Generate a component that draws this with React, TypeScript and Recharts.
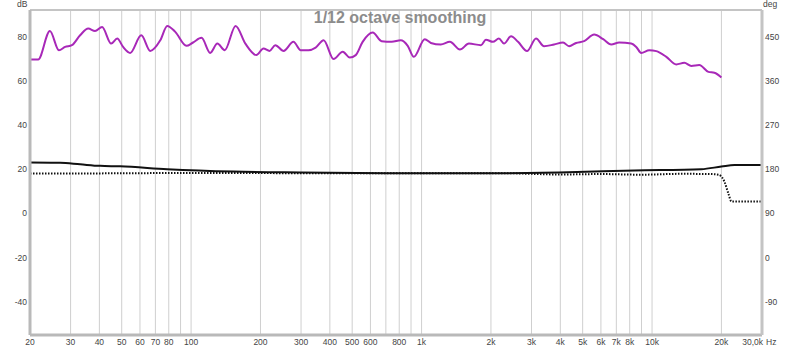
import React from "react";
import { LineChart, Line, XAxis, YAxis, CartesianGrid, ReferenceLine } from "recharts";

// Frequency ticks (Hz) and which get labels
const freqTicks = [20, 30, 40, 50, 60, 70, 80, 90, 100, 200, 300, 400, 500, 600, 700, 800, 900, 1000, 2000, 3000, 4000, 5000, 6000, 7000, 8000, 9000, 10000, 20000, 30000];
const freqLabels: Record<number, string> = {
  20: "20", 30: "30", 40: "40", 50: "50", 60: "60", 70: "70", 80: "80", 100: "100",
  200: "200", 300: "300", 400: "400", 500: "500", 600: "600", 800: "800", 1000: "1k",
  2000: "2k", 3000: "3k", 4000: "4k", 5000: "5k", 6000: "6k", 7000: "7k", 8000: "8k",
  10000: "10k", 20000: "20k", 30000: "30,0k",
};
const dbTicks = [-40, -20, 0, 20, 40, 60, 80];
const degTicks = [-90, 0, 90, 180, 270, 360, 450];

// Magenta trace (dB)
const magentaFreq = [20, 21.7, 24.4, 26.7, 28.4, 30.4, 33.0, 35.8, 38.3, 41.1, 45.0, 47.8, 50.7, 54.4, 60.8, 66.5, 73.5, 78.8, 85.4, 95.4, 102, 111, 121, 130, 140, 156, 172, 192, 206, 219, 232, 252, 278, 299, 323, 347, 376, 415, 455, 488, 518, 555, 614, 671, 742, 812, 871, 925, 1033, 1097, 1212, 1327, 1467, 1605, 1810, 1902, 2040, 2166, 2278, 2444, 2622, 2868, 3138, 3400, 3758, 4112, 4366, 4684, 5074, 5610, 6138, 6650, 7204, 8124, 8540, 8974, 9728, 10436, 11536, 12736, 13804, 14812, 16036, 17560, 18646, 20000];
const magentaDb = [69.6, 69.6, 82.5, 73.8, 75.3, 76.1, 80.6, 83.6, 82.5, 84.3, 76.8, 79.1, 75.3, 72.6, 80.6, 73.5, 78.3, 84.8, 82.1, 75.8, 77.3, 79.4, 72.6, 76.8, 73.8, 84.8, 76.8, 71.6, 74.6, 73.5, 76.1, 73.5, 77.6, 73.8, 73.8, 75.0, 78.3, 69.8, 73.1, 70.5, 71.6, 77.6, 81.8, 77.9, 77.6, 78.3, 75.8, 70.8, 78.8, 77.1, 76.4, 77.6, 74.1, 76.8, 76.1, 78.6, 77.6, 79.1, 76.8, 80.1, 77.6, 73.4, 79.1, 75.6, 76.4, 77.3, 75.6, 77.1, 77.9, 80.9, 78.8, 76.4, 77.3, 76.8, 75.3, 72.6, 73.8, 73.4, 70.8, 67.4, 68.1, 66.7, 67.1, 64.0, 63.6, 61.5];

// Solid black trace (dB)
const solidFreq = [20, 27, 33, 40.3, 49.2, 78.8, 153, 299, 812, 2210, 4322, 8372, 16368, 20000, 22794, 30000];
const solidDb = [23.0, 22.9, 22.2, 21.5, 21.3, 20.0, 18.9, 18.5, 18.2, 18.2, 18.6, 19.4, 20.0, 21.2, 21.9, 21.9];

// Dotted black trace (dB)
const dottedFreq = [20, 40.3, 110, 299, 812, 2210, 4028, 6016, 8974, 13398, 18094, 19400, 20606, 21440, 22110, 30000];
const dottedDb = [18.0, 18.1, 18.3, 18.2, 18.2, 18.2, 17.6, 17.8, 17.5, 17.9, 17.8, 17.5, 14.4, 9.0, 5.4, 5.4];

const magentaData = magentaFreq.map((f, i) => ({ f, v: magentaDb[i] }));
const solidData = solidFreq.map((f, i) => ({ f, v: solidDb[i] }));
const dottedData = dottedFreq.map((f, i) => ({ f, v: dottedDb[i] }));

const DB_MIN = -55;
const DB_MAX = 92;
const toDeg = (d: number) => d * 4.5 + 90;

const FONT = "'Liberation Sans', Arial, sans-serif";
const TICK_COLOR = "#444";

const XTick = (props: any) => {
  const { x, y, payload } = props;
  const label = freqLabels[payload.value];
  if (!label) return null;
  if (payload.value === 30000) {
    return (
      <g>
        <text x={x + 1} y={y + 10} textAnchor="end" fontSize={8.5} fontFamily={FONT} fill={TICK_COLOR}>{label}</text>
        <text x={x + 4} y={y + 10} textAnchor="start" fontSize={8.5} fontFamily={FONT} fill={TICK_COLOR}>Hz</text>
      </g>
    );
  }
  return (
    <text x={x} y={y + 10} textAnchor="middle" fontSize={8.5} fontFamily={FONT} fill={TICK_COLOR}>{label}</text>
  );
};

const LTick = (props: any) => {
  const { x, y, payload } = props;
  return (
    <text x={x} y={y + 3} textAnchor="end" fontSize={8.5} fontFamily={FONT} fill={TICK_COLOR}>{payload.value}</text>
  );
};

const RTick = (props: any) => {
  const { x, y, payload } = props;
  return (
    <text x={x} y={y + 3} textAnchor="start" fontSize={8.5} fontFamily={FONT} fill={TICK_COLOR}>{payload.value}</text>
  );
};

export default function App() {
  return (
    <div style={{ position: "absolute", left: 0, top: 0, width: 800, height: 352, background: "#fff" }}>
      <LineChart width={800} height={352} margin={{ top: 10, right: 0, bottom: 0, left: 0 }}>
        <CartesianGrid stroke="#cfcfcf" strokeWidth={1} />
        <XAxis
          dataKey="f"
          type="number"
          scale="log"
          domain={[20, 30000]}
          ticks={freqTicks}
          interval={0}
          height={17}
          tickSize={0}
          tickMargin={0}
          tick={<XTick />}
          axisLine={{ stroke: "#b9b9b9", strokeWidth: 3 }}
          allowDataOverflow
        />
        <YAxis
          yAxisId="left"
          orientation="left"
          type="number"
          domain={[DB_MIN, DB_MAX]}
          ticks={dbTicks}
          interval={0}
          width={30}
          tickSize={0}
          tickMargin={3}
          tick={<LTick />}
          axisLine={{ stroke: "#b9b9b9", strokeWidth: 3 }}
          allowDataOverflow
        />
        <YAxis
          yAxisId="right"
          orientation="right"
          type="number"
          domain={[toDeg(DB_MIN), toDeg(DB_MAX)]}
          ticks={degTicks}
          interval={0}
          width={38}
          tickSize={0}
          tickMargin={3}
          tick={<RTick />}
          axisLine={{ stroke: "#c4c4c4", strokeWidth: 3 }}
          allowDataOverflow
        />
        <ReferenceLine yAxisId="left" y={DB_MAX} stroke="#c4c4c4" strokeWidth={2} />
        <Line
          yAxisId="left"
          data={dottedData}
          dataKey="v"
          type="monotone"
          stroke="#111"
          strokeWidth={2}
          strokeDasharray="1.5 1.5"
          dot={false}
          isAnimationActive={false}
        />
        <Line
          yAxisId="left"
          data={solidData}
          dataKey="v"
          type="monotone"
          stroke="#111"
          strokeWidth={2}
          dot={false}
          isAnimationActive={false}
        />
        <Line
          yAxisId="left"
          data={magentaData}
          dataKey="v"
          type="monotone"
          stroke="#a828b8"
          strokeWidth={2}
          dot={false}
          isAnimationActive={false}
        />
      </LineChart>
      <div style={{ position: "absolute", left: 17, top: -1, fontFamily: FONT, fontSize: 8.5, color: TICK_COLOR }}>dB</div>
      <div style={{ position: "absolute", left: 763, top: -1, fontFamily: FONT, fontSize: 8.5, color: TICK_COLOR }}>deg</div>
      <div style={{ position: "absolute", left: 0, width: 800, top: 9, textAlign: "center", fontFamily: FONT, fontSize: 16, fontWeight: "bold", color: "#8c8c8c" }}>1/12 octave smoothing</div>
    </div>
  );
}
